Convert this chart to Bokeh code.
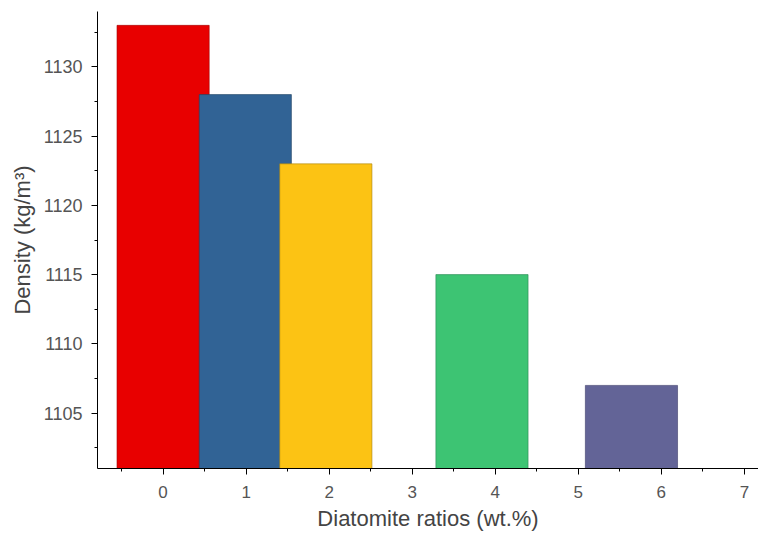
from bokeh.plotting import figure
from bokeh.models import ColumnDataSource, SingleIntervalTicker, Range1d
from bokeh.embed import file_html
from bokeh.resources import INLINE

# data
ratios = ["0", "1", "2", "4", "6"]
bar_x = [0.0, 0.99, 1.96, 3.84, 5.64]
density = [1133, 1128, 1123, 1115, 1107]
colors = ["#E80000", "#316395", "#FCC314", "#3DC473", "#636497"]
edge_colors = ["#A00000", "#1E3F60", "#A88210", "#278550", "#40406A"]

BAR_W = 1.11
Y0, Y1 = 1101, 1134

src = ColumnDataSource(dict(x=bar_x, top=density, ratio=ratios,
                            color=colors, edge=edge_colors))

p = figure(width=758, height=536, output_backend="svg", toolbar_location=None,
           x_range=Range1d(-0.79, 7.17), y_range=Range1d(Y0, Y1),
           min_border_left=97, min_border_top=11, min_border_bottom=68,
           min_border_right=0)
p.outline_line_color = None
p.xgrid.visible = False
p.ygrid.visible = False

p.vbar(x="x", top="top", bottom=Y0, width=BAR_W, source=src,
       fill_color="color", line_color="edge", line_alpha=0.6, line_width=1)

font = "Liberation Sans"
for ax in (p.xaxis[0], p.yaxis[0]):
    ax.axis_line_color = "black"
    ax.axis_line_width = 1
    ax.major_tick_in = 0
    ax.major_tick_out = 6
    ax.minor_tick_in = 0
    ax.minor_tick_out = 3
    ax.major_tick_line_color = "black"
    ax.minor_tick_line_color = "black"
    ax.major_label_text_font = font
    ax.major_label_text_color = "#555555"
    ax.axis_label_text_font = font
    ax.axis_label_text_font_size = "22px"
    ax.axis_label_text_color = "#444444"
    ax.axis_label_text_font_style = "normal"

p.xaxis.major_label_text_font_size = "17px"
p.yaxis.major_label_text_font_size = "18px"
p.xaxis.ticker = SingleIntervalTicker(interval=1, num_minor_ticks=2)
p.yaxis.ticker = SingleIntervalTicker(interval=5, num_minor_ticks=2)
p.xaxis.axis_label = "Diatomite ratios (wt.%)"
p.yaxis.axis_label = "Density (kg/m\u00b3)"
p.xaxis.major_label_standoff = 11
p.yaxis.major_label_standoff = 9
p.xaxis.axis_label_standoff = 5
p.yaxis.axis_label_standoff = 6

open("out.html", "w").write(file_html(p, INLINE))
